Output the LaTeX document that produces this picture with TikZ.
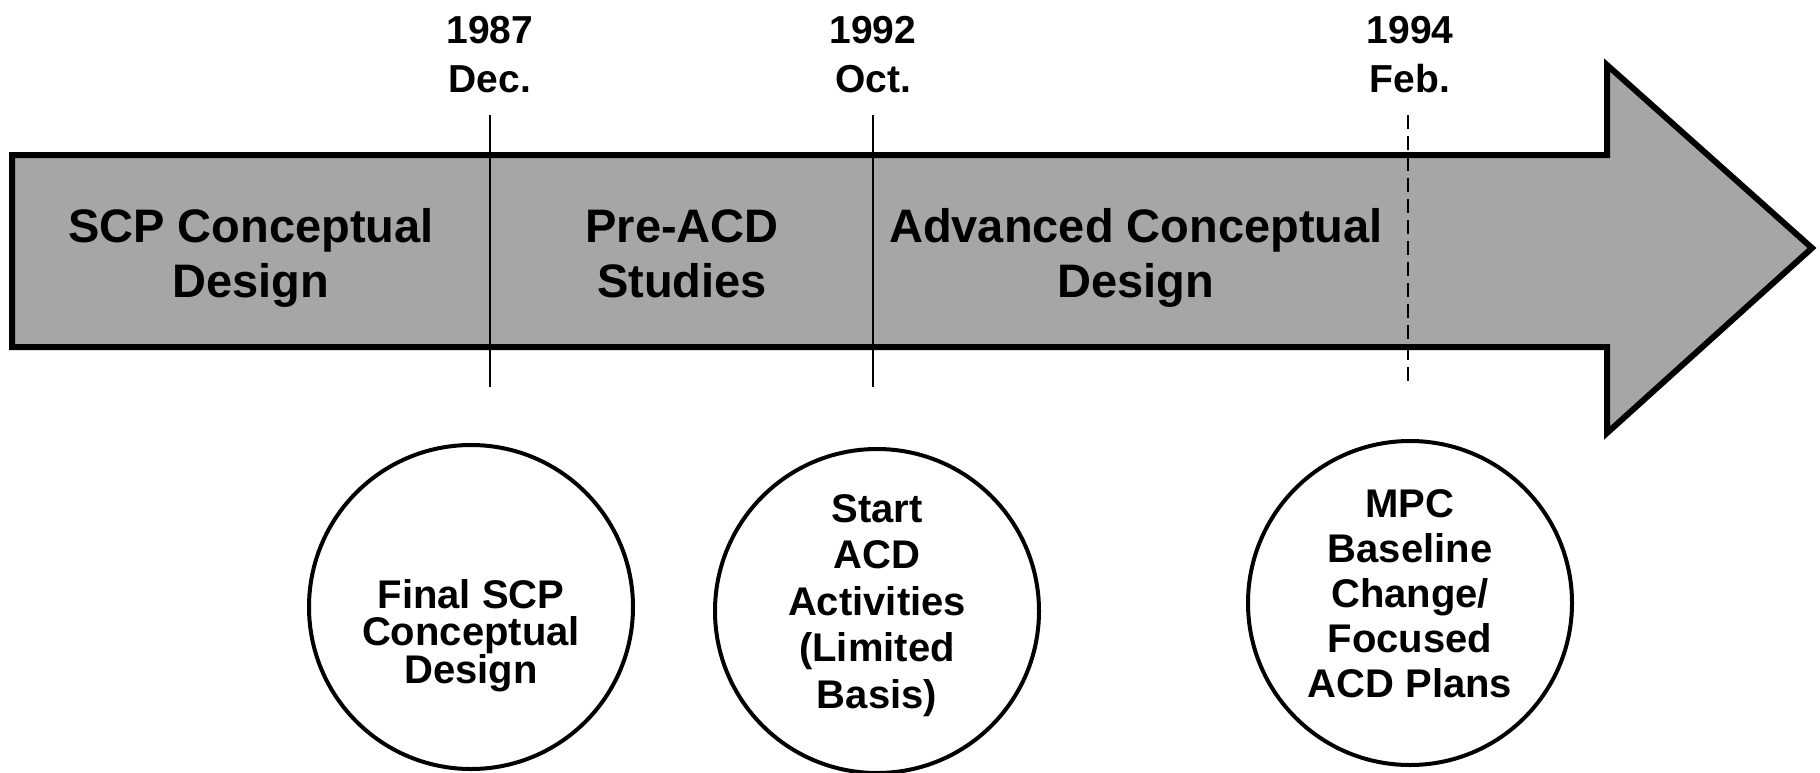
\documentclass[tikz,border=0pt]{standalone}
\usepackage{fontspec}
\setmainfont{Liberation Sans}
\begin{document}
\begin{tikzpicture}[x=1pt,y=-1pt]
\tikzset{datelbl/.style={font=\bfseries\fontsize{39}{49}\selectfont, align=center, anchor=base, inner sep=0pt},
phaselbl/.style={font=\bfseries\fontsize{47}{55}\selectfont, align=center, anchor=base, inner sep=0pt},
milestone/.style={draw, circle, line width=4pt, minimum size=324pt, inner sep=0pt},
mstext/.style={font=\bfseries\fontsize{40}{46.5}\selectfont, align=center, anchor=base, inner sep=0pt},
tick/.style={line width=2.5pt}}
\useasboundingbox (0,0) rectangle (1820,772);
\draw[line width=6pt, fill=black!35, line join=miter] (12,155) -- (1607,155) -- (1607,65) -- (1812,248) -- (1607,433) -- (1607,347) -- (12,347) -- cycle;
\coordinate (T1) at (490,115);
\coordinate (B1) at (490,387);
\coordinate (T2) at (873,115);
\coordinate (B2) at (873,387);
\coordinate (T3) at (1408,115);
\coordinate (B3) at (1408,385);
\draw[tick] (T1) -- (B1);
\draw[tick] (T2) -- (B2);
\draw[tick, dash pattern=on 14pt off 7pt] (T3) -- (B3);
\node[datelbl] (D1) at (490,92) {1987\\Dec.};
\node[datelbl] (D2) at (873,92) {1992\\Oct.};
\node[datelbl] (D3) at (1410,92) {1994\\Feb.};
\node[phaselbl] (P1) at (251,297) {SCP Conceptual\\Design};
\node[phaselbl] (P2) at (682,297) {Pre-ACD\\Studies};
\node[phaselbl] (P3) at (1136,297) {Advanced Conceptual\\Design};
\node[milestone] (M1) at (471,607) {};
\node[milestone] (M2) at (877,611) {};
\node[milestone] (M3) at (1410,603) {};
\node[mstext, font=\bfseries\fontsize{40}{37.5}\selectfont] (L1) at (471,683) {Final SCP\\Conceptual\\Design};
\node[mstext] (L2) at (877,708) {Start\\ACD\\Activities\\(Limited\\Basis)};
\node[mstext, font=\bfseries\fontsize{40}{45}\selectfont] (L3) at (1410,697) {MPC\\Baseline\\Change/\\Focused\\ACD Plans};
\end{tikzpicture}
\end{document}
